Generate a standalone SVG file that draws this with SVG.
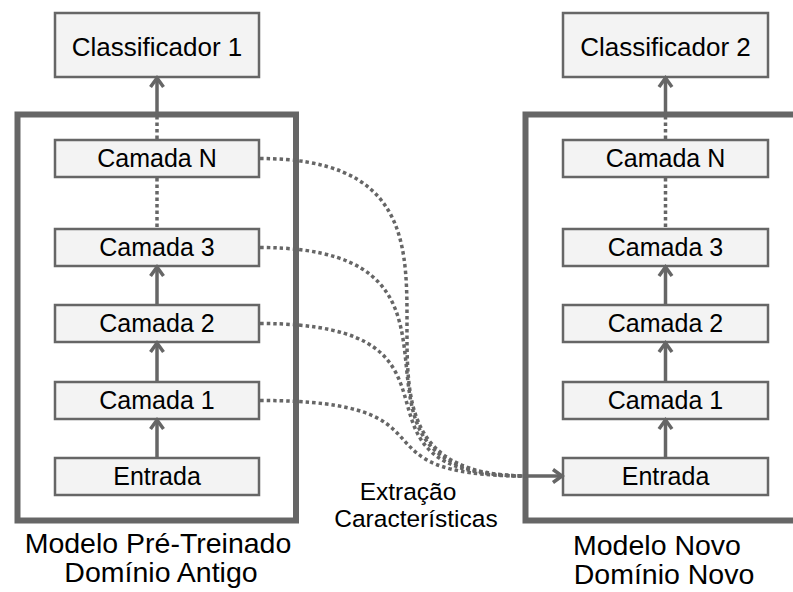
<svg xmlns="http://www.w3.org/2000/svg" width="793" height="592" viewBox="0 0 793 592">
  <style>
    .box { fill: #f3f3f3; stroke: #666666; stroke-width: 2.5; }
    .frame { fill: none; stroke: #666666; stroke-width: 6; }
    .lbl { font-family: "Liberation Sans", Arial, sans-serif; font-size: 25px; fill: #000000; text-anchor: middle; }
    .cls { font-size: 26px; }
    .note { font-size: 24.5px; }
    .cap { font-family: "Liberation Sans", Arial, sans-serif; font-size: 28.5px; fill: #000000; text-anchor: middle; }
    .solid { fill: none; stroke: #666666; stroke-width: 3.5; }
    .dot { fill: none; stroke: #666666; stroke-width: 3.5; stroke-dasharray: 3.5 3; }
  </style>
  <defs>
    <marker id="arrow" markerUnits="userSpaceOnUse" markerWidth="20" markerHeight="20" refX="13" refY="10" orient="auto">
      <path d="M4,3.5 L13,10 L4,16.5" fill="none" stroke="#666666" stroke-width="3.5"/>
    </marker>
  </defs>
  <rect width="793" height="592" fill="#ffffff"/>

  <!-- model frames -->
  <g id="frame-old">
    <rect class="frame" x="17.5" y="114.5" width="278.5" height="406"/>
  </g>
  <g id="frame-new">
    <rect class="frame" x="525.5" y="114.5" width="300" height="406"/>
  </g>

  <!-- left stack: pre-trained model -->
  <g id="classificador-1">
    <rect class="box" x="55" y="13" width="204" height="64"/>
    <text class="lbl cls" x="157" y="56">Classificador 1</text>
  </g>
  <g id="camada-n-a">
    <rect class="box" x="55" y="140" width="204" height="37"/>
    <text class="lbl" x="157" y="167">Camada N</text>
  </g>
  <g id="camada-3-a">
    <rect class="box" x="55" y="229" width="204" height="37"/>
    <text class="lbl" x="157" y="256">Camada 3</text>
  </g>
  <g id="camada-2-a">
    <rect class="box" x="55" y="305" width="204" height="37"/>
    <text class="lbl" x="157" y="332">Camada 2</text>
  </g>
  <g id="camada-1-a">
    <rect class="box" x="55" y="382" width="204" height="37"/>
    <text class="lbl" x="157" y="409">Camada 1</text>
  </g>
  <g id="entrada-a">
    <rect class="box" x="55" y="458" width="204" height="37"/>
    <text class="lbl" x="157" y="485">Entrada</text>
  </g>

  <!-- right stack: new model -->
  <g id="classificador-2">
    <rect class="box" x="563" y="13" width="205" height="64"/>
    <text class="lbl cls" x="665.5" y="56">Classificador 2</text>
  </g>
  <g id="camada-n-b">
    <rect class="box" x="563" y="140" width="205" height="37"/>
    <text class="lbl" x="665.5" y="167">Camada N</text>
  </g>
  <g id="camada-3-b">
    <rect class="box" x="563" y="229" width="205" height="37"/>
    <text class="lbl" x="665.5" y="256">Camada 3</text>
  </g>
  <g id="camada-2-b">
    <rect class="box" x="563" y="305" width="205" height="37"/>
    <text class="lbl" x="665.5" y="332">Camada 2</text>
  </g>
  <g id="camada-1-b">
    <rect class="box" x="563" y="382" width="205" height="37"/>
    <text class="lbl" x="665.5" y="409">Camada 1</text>
  </g>
  <g id="entrada-b">
    <rect class="box" x="563" y="458" width="205" height="37"/>
    <text class="lbl" x="665.5" y="485">Entrada</text>
  </g>

  <!-- connectors -->
  <g id="connectors">
    <!-- left stack -->
    <path class="dot" d="M157,139 V117"/>
    <path class="solid" d="M157,117 V78" marker-end="url(#arrow)"/>
    <path class="dot" d="M157,178 V228"/>
    <path class="solid" d="M157,304 V267" marker-end="url(#arrow)"/>
    <path class="solid" d="M157,381 V343" marker-end="url(#arrow)"/>
    <path class="solid" d="M157,457 V420" marker-end="url(#arrow)"/>
    <!-- right stack -->
    <path class="dot" d="M665.5,139 V117"/>
    <path class="solid" d="M665.5,117 V78" marker-end="url(#arrow)"/>
    <path class="dot" d="M665.5,178 V228"/>
    <path class="solid" d="M665.5,304 V267" marker-end="url(#arrow)"/>
    <path class="solid" d="M665.5,381 V343" marker-end="url(#arrow)"/>
    <path class="solid" d="M665.5,457 V420" marker-end="url(#arrow)"/>
    <!-- feature extraction: old layers feed the new input -->
    <path class="dot" d="M260,158.5 C545,158.5 278,476 527,476"/>
    <path class="dot" d="M260,247.5 C520,247.5 300,476 527,476"/>
    <path class="dot" d="M260,323.5 C500,323.5 320,476 527,476"/>
    <path class="dot" d="M260,400.5 C470,400.5 340,476 527,476"/>
    <path class="solid" d="M524,476 H562" marker-end="url(#arrow)"/>
  </g>

  <!-- captions -->
  <text class="lbl note" x="408" y="500">Extração</text>
  <text class="lbl note" x="416" y="527">Características</text>
  <text class="cap" x="158" y="553">Modelo Pré-Treinado</text>
  <text class="cap" x="161" y="582">Domínio Antigo</text>
  <text class="cap" x="657" y="555">Modelo Novo</text>
  <text class="cap" x="664" y="584">Domínio Novo</text>
</svg>
